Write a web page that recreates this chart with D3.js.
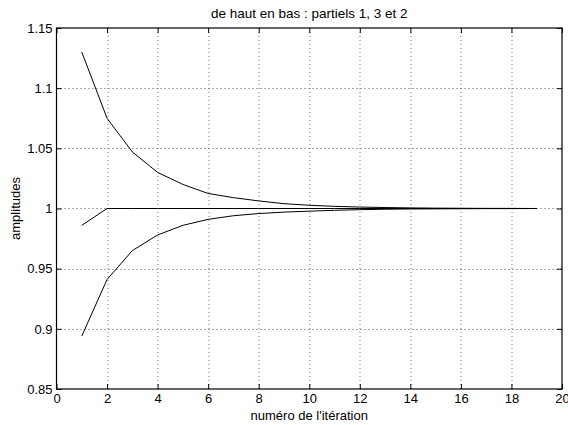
<!DOCTYPE html>
<html>
<head>
<meta charset="utf-8">
<script src="https://cdn.jsdelivr.net/npm/d3@7"></script>
<style>
  body { margin: 0; background: #fff; }
  text { font-family: "Liberation Sans", Arial, sans-serif; }
</style>
</head>
<body>
<div id="chart"></div>
<script>
// iterations and the three partial amplitudes
const iterations = d3.range(1, 20);
const partiel1 = [1.130, 1.075, 1.047, 1.030, 1.020, 1.0125, 1.009, 1.0063, 1.004, 1.0027,
                  1.0018, 1.0012, 1.0008, 1.0005, 1.0003, 1.0002, 1.0001, 1.0001, 1.0];
const partiel3 = [0.986, 1.0, 1.0, 1.0, 1.0, 1.0, 1.0, 1.0, 1.0, 1.0,
                  1.0, 1.0, 1.0, 1.0, 1.0, 1.0, 1.0, 1.0, 1.0];
const partiel2 = [0.894, 0.941, 0.965, 0.978, 0.986, 0.991, 0.994, 0.9958, 0.997, 0.9978,
                  0.9985, 0.999, 0.9994, 0.9996, 0.9997, 0.9998, 0.9999, 0.9999, 1.0];
const xTicks = [0, 2, 4, 6, 8, 10, 12, 14, 16, 18, 20];
const yTicks = [0.85, 0.9, 0.95, 1, 1.05, 1.1, 1.15];

const W = 568, H = 425;
const margin = { top: 28, right: 6, bottom: 36, left: 56.5 };
const width = W - margin.left - margin.right;
const height = H - margin.top - margin.bottom;
const fontSize = 13;

const svg = d3.select("#chart").append("svg")
    .attr("width", W)
    .attr("height", H);

const g = svg.append("g")
    .attr("transform", `translate(${margin.left}, ${margin.top})`);

const x = d3.scaleLinear().domain([0, 20]).range([0, width]);
const y = d3.scaleLinear().domain([0.85, 1.15]).range([height, 0]);

// dotted grid
g.append("g").selectAll("line")
    .data(xTicks.slice(1, -1))
    .enter().append("line")
    .attr("x1", d => Math.round(x(d)) + 0.5)
    .attr("x2", d => Math.round(x(d)) + 0.5)
    .attr("y1", 0)
    .attr("y2", height)
    .attr("stroke", "#777")
    .attr("stroke-dasharray", "1,3");

g.append("g").selectAll("line")
    .data(yTicks.slice(1, -1))
    .enter().append("line")
    .attr("x1", 0)
    .attr("x2", width)
    .attr("y1", d => Math.round(y(d)) + 0.5)
    .attr("y2", d => Math.round(y(d)) + 0.5)
    .attr("stroke", "#555")
    .attr("stroke-dasharray", "1,3");

// axes, ticks pointing inwards on all four sides
const xAxis = d3.axisBottom(x).tickValues(xTicks).tickSize(-5).tickPadding(5).tickFormat(d3.format("d"));
const yAxis = d3.axisLeft(y).tickValues(yTicks).tickSize(-5).tickPadding(4).tickFormat(d => d3.format("")(+d.toFixed(2)));

g.append("g").attr("class", "x-axis")
    .attr("transform", `translate(0, ${height})`)
    .call(xAxis);
g.append("g").attr("class", "x-axis-top")
    .call(d3.axisTop(x).tickValues(xTicks).tickSize(-5).tickFormat(""));
g.append("g").attr("class", "y-axis")
    .call(yAxis);
g.append("g").attr("class", "y-axis-right")
    .attr("transform", `translate(${width}, 0)`)
    .call(d3.axisRight(y).tickValues(yTicks).tickSize(-5).tickFormat(""));

g.selectAll(".domain").remove();
g.selectAll(".tick line").attr("stroke", "#000");
g.selectAll(".tick text").attr("font-size", fontSize).attr("fill", "#000")
    .style("font-family", "'Liberation Sans', Arial, sans-serif");

g.append("rect")
    .attr("x", 0).attr("y", 0)
    .attr("width", width).attr("height", height)
    .attr("fill", "none")
    .attr("stroke", "#000")
    .attr("stroke-width", 1.2);

// the three curves
const line = d3.line()
    .x((d, i) => x(iterations[i]))
    .y(d => y(d));

[partiel1, partiel3, partiel2].forEach(s => {
    g.append("path")
        .datum(s)
        .attr("d", line)
        .attr("fill", "none")
        .attr("stroke", "#000")
        .attr("stroke-width", 1);
});

// labels
svg.append("text")
    .attr("x", margin.left + width / 2)
    .attr("y", 18)
    .attr("text-anchor", "middle")
    .attr("font-size", 13.5)
    .text("de haut en bas : partiels 1, 3 et 2");

svg.append("text")
    .attr("x", margin.left + width / 2)
    .attr("y", 420)
    .attr("text-anchor", "middle")
    .attr("font-size", fontSize)
    .text("numéro de l'itération");

svg.append("text")
    .attr("text-anchor", "middle")
    .attr("transform", `translate(20, ${margin.top + height / 2}) rotate(-90)`)
    .attr("font-size", fontSize)
    .text("amplitudes");
</script>
</body>
</html>
